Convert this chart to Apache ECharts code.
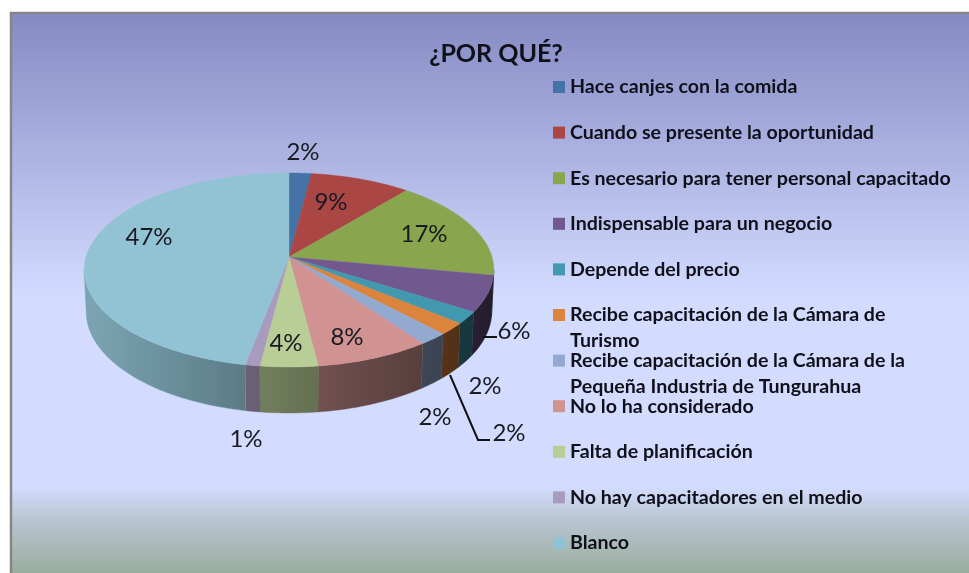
<!DOCTYPE html>
<html>
<head>
<meta charset="utf-8">
<style>
  html, body { margin: 0; padding: 0; background: #fff; }
  #chart { width: 969px; height: 573px; }
</style>
<script src="https://cdn.jsdelivr.net/npm/echarts@6/dist/echarts.min.js"></script>
</head>
<body>
<div id="chart"></div>
<script>
const categories = [
  'Hace canjes con la comida',
  'Cuando se presente la oportunidad',
  'Es necesario para tener personal capacitado',
  'Indispensable para un negocio',
  'Depende del precio',
  'Recibe capacitación de la Cámara de\nTurismo',
  'Recibe capacitación de la Cámara de la\nPequeña Industria de Tungurahua',
  'No lo ha considerado',
  'Falta de planificación',
  'No hay capacitadores en el medio',
  'Blanco'
]
const values = [2, 9, 17, 6, 2, 2, 2, 8, 4, 1, 47]
const colors = ['#4572A7', '#AA4643', '#89A54E', '#71588F', '#4198AF', '#DB843D', '#93A9CF', '#D19392', '#B9CD96', '#A99BBD', '#92C3D4']

// Etiquetas colocadas a mano, como en el original (desplazamiento desde el centro del pastel)
const labelOffsets = [[14, -105], [42, -55], [135, -23], [225, 74], [196, 129], [220, 176], [146, 160], [58, 80], [-3, 86], [-43, 182], [-140, -20]]
const leaderLines = { 3: [[194, 80], [208, 80]], 5: [[161, 118], [189, 183], [201, 183]] }

// Perspectiva del pastel 3D: plano superior y plano inferior
const cx = 289, cy = 257, A = 203, B = 95.26, K = 0.134, C = 41.4, Q = 1.01
const total = values.reduce((a, b) => a + b, 0)
const turn = v => v / total * Math.PI * 2

function project (a, bottom) {
  const u = Math.sin(a), v = -Math.cos(a)
  const w = 1 / ((bottom ? Q : 1) - K * v)
  return [cx + A * u * w, cy + (B * v + (bottom ? C : 0)) * w]
}

function arc (a0, a1, bottom) {
  const pts = []
  const n = Math.max(2, Math.ceil((a1 - a0) / 0.02))
  for (let i = 0; i <= n; i++) pts.push(project(a0 + (a1 - a0) * i / n, bottom))
  return pts
}

function shade (hex, f) {
  const n = parseInt(hex.slice(1), 16)
  const c = [n >> 16 & 255, n >> 8 & 255, n & 255].map(x => Math.round(x * f))
  return `rgb(${c.join(',')})`
}

// la pared lateral se oscurece de izquierda a derecha
const wallLight = a => 0.58 - 0.27 * Math.sin(a)

function renderSlice (params) {
  const i = params.seriesIndex
  const start = turn(values.slice(0, i).reduce((a, b) => a + b, 0))
  const end = start + turn(values[i])
  const children = []

  const w0 = Math.max(start, Math.PI / 2 + Math.asin(K))
  const w1 = Math.min(end, Math.PI * 1.5 - Math.asin(K))
  if (w1 > w0) {
    children.push({
      type: 'polygon',
      shape: { points: arc(w0, w1, false).concat(arc(w0, w1, true).reverse()) },
      style: {
        // en la mitad inferior, x decrece al avanzar el ángulo
        fill: new echarts.graphic.LinearGradient(0, 0, 1, 0, [
          { offset: 0, color: shade(colors[i], wallLight(w1)) },
          { offset: 1, color: shade(colors[i], wallLight(w0)) }
        ]),
        stroke: shade(colors[i], wallLight((w0 + w1) / 2)),
        lineWidth: 0.4
      }
    })
  }

  children.push({
    type: 'polygon',
    shape: { points: [[cx, cy]].concat(arc(start, end, false)) },
    style: { fill: colors[i], stroke: colors[i], lineWidth: 0.4 }
  })

  if (leaderLines[i]) {
    children.push({
      type: 'polyline',
      shape: { points: leaderLines[i].map(p => [cx + p[0], cy + p[1]]) },
      style: { fill: null, stroke: '#111', lineWidth: 2 }
    })
  }

  children.push({
    type: 'text',
    z2: 10,
    style: {
      x: cx + labelOffsets[i][0],
      y: cy + labelOffsets[i][1],
      text: values[i] + '%',
      align: 'center',
      verticalAlign: 'middle',
      fill: '#1a1a22',
      font: '24px Lato'
    }
  })
  return { type: 'group', children }
}

const legendRows = categories.map((name, i) => {
  const double = name.includes('\n')
  const mid = 87 + i * 45.6
  return {
    data: [name],
    orient: 'vertical',
    left: 553,
    top: mid - (double ? 39 : 10),
    padding: 0,
    icon: 'rect',
    itemWidth: 12,
    itemHeight: 12,
    selectedMode: false,
    // línea en blanco delante: así la primera línea queda a la altura del cuadro
    formatter: n => (n.includes('\n') ? '\n' + n : n),
    textStyle: {
      fontFamily: 'Lato',
      fontWeight: 'bold',
      fontSize: 19.6,
      color: '#10101a',
      lineHeight: double ? 26 : 12
    }
  }
})

const chart = echarts.init(document.getElementById('chart'))
chart.setOption({
  animation: false,
  backgroundColor: '#fff',
  title: {
    text: '¿POR QUÉ?',
    left: 496,
    top: 54,
    textAlign: 'center',
    textVerticalAlign: 'middle',
    padding: 0,
    textStyle: { fontFamily: 'Lato', fontWeight: 'bold', fontSize: 25, color: '#10101a' }
  },
  graphic: [{
    type: 'rect',
    z: -10,
    silent: true,
    shape: { x: 11, y: 13, width: 970, height: 570 },
    style: {
      stroke: '#868686',
      lineWidth: 2.5,
      fill: new echarts.graphic.LinearGradient(0, 0, 0, 1, [
        { offset: 0, color: '#8589c3' },
        { offset: 0.5, color: '#d3dcff' },
        { offset: 0.83, color: '#d3dcff' },
        { offset: 0.89, color: '#b7c5cf' },
        { offset: 0.98, color: '#9aae9e' },
        { offset: 1, color: '#9aae9e' }
      ])
    }
  }],
  legend: legendRows,
  series: categories.map((name, i) => ({
    type: 'custom',
    name,
    coordinateSystem: 'none',
    silent: true,
    itemStyle: { color: colors[i] },
    renderItem: renderSlice,
    data: [[values[i]]]
  }))
})
</script>
</body>
</html>
